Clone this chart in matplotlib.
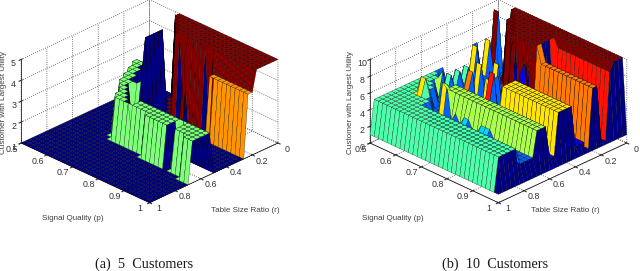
"""Utility surfaces: which customer has the largest utility, for 5 and 10 customers."""
import numpy as np
import matplotlib
matplotlib.use("Agg")
import matplotlib.pyplot as plt
from mpl_toolkits.mplot3d import Axes3D  # noqa: F401

plt.rcParams["font.family"] = ["Liberation Sans", "DejaVu Sans"]
plt.rcParams["grid.linestyle"] = ":"
plt.rcParams["grid.linewidth"] = 0.6
plt.rcParams["grid.color"] = "0.3"

# rows: r = 0 .. 1, columns: p = 0.5 .. 1 (A = 10)
R_VALUES = np.linspace(0, 1, 31)
P_VALUES = np.linspace(0.5, 1, 31)

Z_5 = [
    "11111 11555 55555 55555 55555 55555 5",
    "11111 11555 55555 55555 55555 55555 5",
    "11111 11155 55555 55555 55555 55555 5",
    "11111 11115 55555 55555 55555 55555 5",
    "11111 11111 55555 55555 55555 55555 5",
    "11111 11111 15515 55551 55555 55555 5",
    "11133 31115 11114 11111 14444 44444 4",
    "11133 31115 11111 11111 14444 44444 4",
    "11113 33115 11111 11111 11111 11111 1",
    "11113 33115 11111 11111 11111 11111 1",
    "11111 33315 11111 11111 11111 11111 1",
    "11111 33313 11111 11111 11111 11111 1",
    "11111 13333 11111 11111 11111 11111 1",
    "11111 13331 11111 11111 11111 11111 1",
    "11111 11333 11111 11111 11111 11111 1",
    "11111 11133 31111 11111 11111 11111 1",
    "11111 11113 33113 33333 33333 33333 3",
    "11111 11113 33313 33333 33331 33333 3",
    "11111 11111 33333 33333 33331 33333 3",
    "11111 11111 11111 11133 33331 33333 3",
    "11111 11111 11111 11111 11111 11133 3",
    "11111 11111 11111 11111 11111 11111 1",
    "11111 11111 11111 11111 11111 11111 1",
    "11111 11111 11111 11111 11111 11111 1",
    "11111 11111 11111 11111 11111 11111 1",
    "11111 11111 11111 11111 11111 11111 1",
    "11111 11111 11111 11111 11111 11111 1",
    "11111 11111 11111 11111 11111 11111 1",
    "11111 11111 11111 11111 11111 11111 1",
    "11111 11111 11111 11111 11111 11111 1",
    "11111 11111 11111 11111 11111 11111 1",
]

Z_10 = [
    "1111A AAAAA AAAAA AAAAA AAAAA AAAAA 1",
    "1111A AAAAA AAAAA AAAAA AAAAA AAAAA 1",
    "33333 AAAAA AAAAA AAAAA AAAAA AAAAA 1",
    "33AA3 3AAAA AAAAA AA999 99999 99999 1",
    "33333 3AAAA AAAAA AA111 11111 11111 1",
    "33773 33AAA AAAAA AA122 21212 11111 1",
    "33333 3339A AAAAA AA888 88888 88888 1",
    "33733 3331A AAAAA AA888 88888 88888 1",
    "33773 33133 19A11 71111 11111 11111 1",
    "33333 33133 11112 82222 22222 22222 1",
    "33553 33337 73322 72222 22222 22222 1",
    "33333 33333 33322 32222 22222 22222 1",
    "33553 33773 33333 37777 77777 77777 1",
    "53333 33333 33373 37777 77777 77777 1",
    "53553 33333 33373 37777 77777 77777 1",
    "55333 33333 33773 37777 77777 77777 1",
    "55563 33333 33333 33222 22222 22222 1",
    "55533 33333 88333 99333 33322 22222 1",
    "55553 33366 66666 66666 66666 66666 1",
    "55555 33366 66666 66666 66666 66666 1",
    "55555 33366 66666 66666 66666 66666 1",
    "55555 53377 34344 33444 33333 33333 1",
    "55557 75333 33333 33333 33333 33333 1",
    "55555 55533 33333 33333 33333 33333 1",
    "55555 55533 33333 33333 33333 33333 1",
    "55555 55555 55555 55555 55555 55555 1",
    "55555 55555 55555 55555 55555 55555 1",
    "55555 55555 55555 55555 55555 55555 1",
    "55555 55555 55555 55555 55555 55555 1",
    "55555 55555 55555 55555 55555 55555 1",
    "11111 11111 11111 11111 11111 11111 1",
]

R_TICKS = [0, 0.2, 0.4, 0.6, 0.8, 1]
P_TICKS = [0.5, 0.6, 0.7, 0.8, 0.9, 1]
Z_TICKS_5 = [1, 2, 3, 4, 5]
Z_TICKS_10 = [0, 2, 4, 6, 8, 10]
CAPTIONS = ["(a)  5  Customers", "(b)  10  Customers"]


def parse(rows):
    return np.array([[int(c, 16) for c in row.replace(" ", "")] for row in rows], float)


def draw(fig, rect, rows, zticks, zmin, zmax):
    ax = fig.add_axes(rect, projection="3d", proj_type="ortho")
    ax.view_init(elev=27.7, azim=45)
    ax.set_box_aspect((1, 1, 0.52), zoom=0.98)
    Z = parse(rows)
    X, Y = np.meshgrid(R_VALUES, P_VALUES, indexing="ij")
    # matlab flat shading: each cell takes the colour of one corner (low r, high p)
    norm = plt.Normalize(Z.min(), Z.max())
    fc = plt.cm.jet(norm(Z))
    fc[:, :-1] = fc[:, 1:].copy()
    ax.plot_surface(X, Y, Z, facecolors=fc, rstride=1, cstride=1, shade=False,
                    edgecolor="k", linewidth=0.2, antialiased=True)
    ax.set_xlim(0, 1, view_margin=0)
    ax.set_ylim(0.5, 1, view_margin=0)
    ax.set_zlim(zmin, zmax, view_margin=0)
    ax.set_xticks(R_TICKS, [f"{t:g}" for t in R_TICKS])
    ax.set_yticks(P_TICKS, [f"{t:g}" for t in P_TICKS])
    ax.set_zticks(zticks, [f"{t:g}" for t in zticks])
    ax.tick_params(labelsize=6.4, colors="0.2", length=2)
    ax.xaxis.set_tick_params(pad=-0.5)
    ax.yaxis.set_tick_params(pad=-0.5)
    ax.zaxis.set_tick_params(pad=-5)
    for lab in ax.get_xticklabels() + ax.get_yticklabels():
        lab.set_va("bottom")
    for axis in (ax.xaxis, ax.yaxis, ax.zaxis):
        axis.set_pane_color((1, 1, 1, 0))
        axis.pane.set_edgecolor("none")
        axis.line.set_linewidth(0.5)
    ax.patch.set_alpha(0)
    return ax


fig = plt.figure(figsize=(6.4, 2.71), dpi=100)
draw(fig, [-0.022, 0.113, 0.5, 1.0], Z_5, Z_TICKS_5, 1, 5)
draw(fig, [0.523, 0.113, 0.5, 1.0], Z_10, Z_TICKS_10, 0, 10)

for x0, xc, cap in zip((0, 320), (144, 495), CAPTIONS):
    fig.text(xc / 640, 1 - 268 / 271, cap, family="Liberation Serif", fontsize=10.3,
             ha="center", va="baseline", color="0.1")
    fig.text((x0 + 73) / 640, 1 - 218 / 271, "Signal Quality (p)", fontsize=5.8,
             ha="center", va="center", color="0.25")
    fig.text((x0 + 245) / 640, 1 - 210 / 271, "Table Size Ratio (r)", fontsize=5.8,
             ha="center", va="center", color="0.25")
fig.text(4 / 640, 1 - 102 / 271, "Customer with Largest Utility", fontsize=5.9,
         rotation=90, ha="center", va="center", color="0.25")
fig.text(350 / 640, 1 - 102 / 271, "Customer with Largest Utility", fontsize=5.9,
         rotation=90, ha="center", va="center", color="0.25")

fig.savefig("out.png", dpi=100)
